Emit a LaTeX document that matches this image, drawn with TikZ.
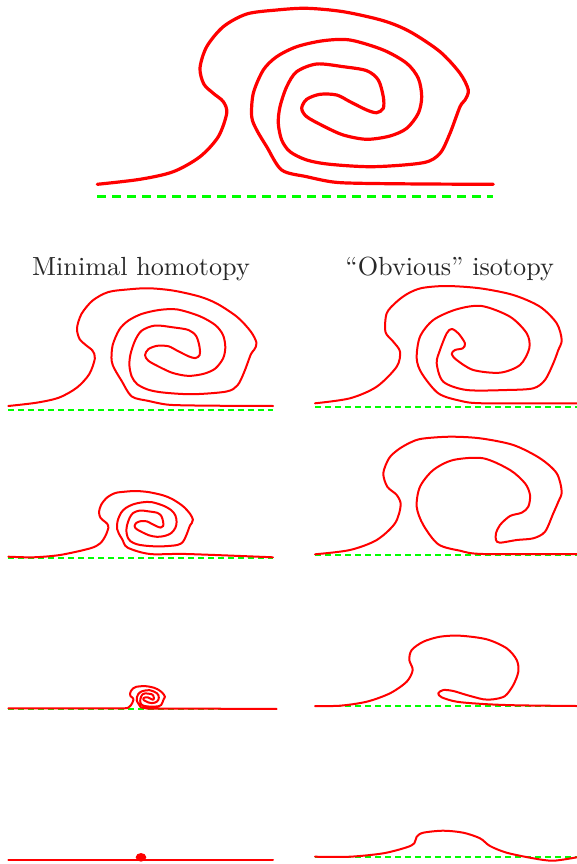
\documentclass[tikz,border=0pt]{standalone}
\usepackage{tikz}
\definecolor{cred}{RGB}{255,0,0}
\definecolor{cgreen}{RGB}{0,255,0}
\definecolor{ctext}{RGB}{40,40,40}
\tikzset{
  curve/.style={draw=cred, line width=2pt, line join=round, line cap=round},
  bigcurve/.style={curve, line width=3.2pt},
  guide/.style={draw=cgreen, line width=2pt, dash pattern=on 6pt off 4pt},
  bigguide/.style={draw=cgreen, line width=3pt, dash pattern=on 8.5pt off 6.5pt},
  label/.style={text=ctext, font=\fontsize{10}{12}\selectfont, scale=2.62, anchor=base}
}
\def\corepts{(218.3,136.7) (226.7,113.3) (223.3,101.7) (213.3,93.3) (203.8,84) (200,68) (206.7,46.7) (223.3,26.7) (246.7,14) (276.7,10) (306.7,8.3) (343.3,11.7) (383.3,20.7) (410,31.7) (440,51.7) (460,73.3) (468.3,90) (465,100) (460,106.7) (450,133.3) (440,153.3) (423.3,162.7) (373.3,166.7) (330,164.3) (306.7,160) (290,151.7) (281.7,140) (278.3,123.3) (280,106.7) (286.7,86.7) (296.7,71.7) (316.7,64) (343.3,66.7) (366.7,70.7) (378.3,80) (383.3,96.7) (383.3,108.3) (376.7,112.7) (366.7,110) (350,101.7) (336.7,95) (320,94.3) (306.7,99.3) (301.7,108.3) (306.7,116.7) (323.3,126) (343.3,135) (366.7,139.3) (390,136) (406.7,128.3) (418.3,113.3) (421.7,96.7) (418.3,78.3) (406.7,63.3) (383.3,50) (350,40) (323.3,40.7) (296.7,46.7) (276.7,56.7) (263.3,70) (253.3,93.3) (251.7,116.7) (256.7,130) (266.7,146.7) (281.7,170)}
\newcommand\spiralpanel[3]{%
  \edef\spiraltmp{\noexpand\draw[#1] plot[smooth] coordinates {#2 \corepts #3};}\spiraltmp}
\begin{document}
\begin{tikzpicture}[x=1pt,y=-1pt]
\useasboundingbox (0,0) rectangle (577,864);

% ---------- top panel ----------
\draw[bigguide] (97.3,196) -- (493.3,196);
\spiralpanel{bigcurve}{(97.3,184.3) (140,179.3) (173.3,171.7) (200,156.7)}{(306.7,176.7) (333,182) (360,183.3) (423.3,184) (493.3,184.3)}

% ---------- labels ----------
\node[label] (lmin) at (141,275) {Minimal homotopy};
\node[label] (lobv) at (449.7,275) {``Obvious'' isotopy};

% ---------- left column ----------
\draw[guide] (8.3,410) -- (273,410);
\spiralpanel{curve,shift={(-56.8,282.7)},scale=0.669}{(97.3,184.3) (140,179.3) (173.3,171.7) (200,156.7)}{(306.7,176.7) (333,182) (360,183.3) (423.3,184) (493.3,184.3)}

\draw[guide] (8.3,557.5) -- (273,557.5);
\spiralpanel{curve,shift={(29,488.1)},scale=0.35}{(-59,196) (12.3,197.7) (88.6,191.1) (174.3,172.3) (202.9,158.3)}{(345.7,188.3) (450.6,188.3) (697,197.7)}

\draw[guide] (8.3,708.5) -- (276.7,708.5);
\spiralpanel{curve,shift={(104,685)},scale=0.13}{(-736,179) (-300,180) (120,180) (190,172)}{(330,180) (420,181) (1328,184)}

\draw[guide] (8.3,860) -- (273,860);
\draw[curve] (8.3,860) -- (273,860);
\fill[cred] (141,857.3) ellipse [x radius=5.3pt, y radius=4.3pt];

% ---------- right column ----------
\draw[guide] (315,406.7) -- (577,406.7);
\draw[curve] plot[smooth] coordinates {(315,403.3) (350,398.3) (376.7,386.7) (396.7,366.7) (400,351.7) (393.3,341.7) (385.5,332) (386.7,313.3) (396.7,301.7) (408,293.5) (422,288) (446.7,286) (480,288.3) (513.3,295) (540,306.7) (556.7,323.3) (561.7,340) (558.3,350) (553.3,363.3) (545,380) (533.3,388.3) (506.7,390) (466.7,390) (443.3,381.7) (436.7,363.3) (440,350) (446.7,333.3) (451.7,329) (458.3,333.3) (465,343.3) (462.7,348.3) (455,350) (451.7,354) (456.7,360) (473.3,370) (500,372.7) (520,365) (529.3,348.3) (526.7,333.3) (510,316.7) (481.7,306) (456.7,309.3) (433.3,320) (420,336.7) (416.7,358.3) (421.7,373.3) (438.3,393.3) (460,400.7) (483.3,403.3) (576.7,403.3)};

\draw[guide] (315,554.5) -- (577,554.5);
\draw[curve] plot[smooth] coordinates {(315,554.3) (350,550) (376.7,540) (395,523.3) (400.7,505) (396.7,495) (387.3,486.7) (383.3,473.3) (389,458.3) (398.3,449.5) (410,442.7) (422,438.7) (450,436.7) (480,438.3) (513.3,445) (540,458.3) (556.7,473.3) (561.7,491.7) (558.3,501.7) (553.3,513.3) (545,531.7) (533.3,538.3) (516.7,540) (500,542.7) (496,540) (496,533.3) (500,525) (510,516) (521.7,512.7) (528.3,506.7) (530,495) (525,483.3) (510,470) (483.3,458.3) (453.3,460) (433.3,470) (420,486.7) (416.7,506.7) (423.3,525) (438.3,544.3) (460,550.7) (483.3,554) (576.7,554)};

\draw[guide] (315,706) -- (577,706);
\draw[curve] plot[smooth] coordinates {(315,706) (340,705.7) (366.7,701.7) (390,693.3) (406.7,681.7) (412.7,670) (409.3,660) (411.7,650) (423.3,641.7) (440,636.7) (460,635.7) (486.7,639.3) (506.7,648.3) (516.7,660) (518.3,671.7) (513.3,685) (505,696) (493.3,699.3) (483.3,699.3) (466.7,695) (453.3,691) (443.3,690) (438.3,693.3) (441.7,697.3) (456.7,701.7) (483.3,704) (516.7,705.3) (576.7,706)};

\draw[guide] (315,857) -- (577,857);
\draw[curve] plot[smooth] coordinates {(315,856.7) (350,856.7) (383.3,853.3) (406.7,847.3) (414.3,843.3) (416.7,836.7) (423.3,832.7) (443.3,830.7) (463.3,832.7) (480,838.3) (490,846) (506.7,852.7) (533.3,858.3) (553.3,860.7) (576.7,857.3)};
\end{tikzpicture}
\end{document}
